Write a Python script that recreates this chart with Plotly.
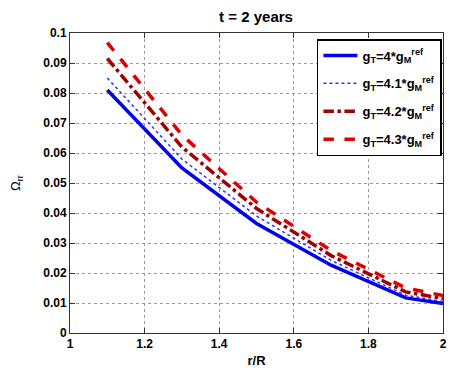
import plotly.graph_objects as go

r = [1.1, 1.3, 1.5, 1.7, 1.9, 2.0]
omega_40 = [0.081, 0.055, 0.0365, 0.0226, 0.0117, 0.0098]
omega_41 = [0.085, 0.058, 0.039, 0.0242, 0.0126, 0.0105]
omega_42 = [0.0915, 0.062, 0.0415, 0.0258, 0.0137, 0.0115]
omega_43 = [0.0968, 0.066, 0.0436, 0.0275, 0.0150, 0.0125]

names = ["g<sub>T</sub>=4*g<sub>M</sub><sup>ref</sup>",
         "g<sub>T</sub>=4.1*g<sub>M</sub><sup>ref</sup>",
         "g<sub>T</sub>=4.2*g<sub>M</sub><sup>ref</sup>",
         "g<sub>T</sub>=4.3*g<sub>M</sub><sup>ref</sup>"]
series = [omega_40, omega_41, omega_42, omega_43]
colors = ["#0000EE", "#3333EE", "#A00000", "#DD0000"]
dashes = ["solid", "dot", "dashdot", "dash"]
widths = [3.5, 1.5, 3.5, 3.5]

fig = go.Figure()
for i, (n, s, c, d, w) in enumerate(zip(names, series, colors, dashes, widths)):
    fig.add_trace(go.Scatter(x=r, y=s, mode="lines", name=n, legendgroup=f"g{i}",
                             line=dict(color=c, dash=d, width=w)))

font = "Liberation Sans, Arial, Helvetica, sans-serif"
axis_common = dict(showline=True, linecolor="#333", linewidth=1, mirror="ticks",
                   ticks="inside", ticklen=5, tickcolor="#333",
                   showgrid=True, gridcolor="#999", griddash="dot", gridwidth=1,
                   zeroline=False, ticklabeloverflow="allow",
                   tickfont=dict(family=font, size=12, color="black", weight="bold"))

# page body has an 8px margin, so the figure is sized to fit inside it
fig.update_layout(
    width=441, height=360,
    margin=dict(l=57, r=2, t=25, b=35),
    paper_bgcolor="white", plot_bgcolor="white",
    title=dict(text="<b>t = 2 years</b>", x=(57 + 191) / 441, xanchor="center",
               y=1 - 3 / 360, yanchor="top",
               font=dict(family=font, size=15, color="black")),
    xaxis=dict(range=[1, 2], tickvals=[1, 1.2, 1.4, 1.6, 1.8, 2],
               ticktext=["1", "1.2", "1.4", "1.6", "1.8", "2"],
               title=dict(text="<b>r/R</b>", font=dict(family=font, size=13, color="black"), standoff=5),
               **axis_common),
    yaxis=dict(range=[0, 0.1], dtick=0.01, tickformat="~g",
               title=dict(text="Ω<sub>rr</sub>", font=dict(family=font, size=13, color="black"), standoff=24),
               **axis_common),
    legend=dict(x=0.662, y=0.98, xanchor="left", yanchor="top",
                bordercolor="black", borderwidth=1.5, bgcolor="white",
                font=dict(family=font, size=13, color="black", weight="bold"),
                tracegroupgap=8, itemwidth=34),
    showlegend=True,
)

fig.write_html("out.html")
